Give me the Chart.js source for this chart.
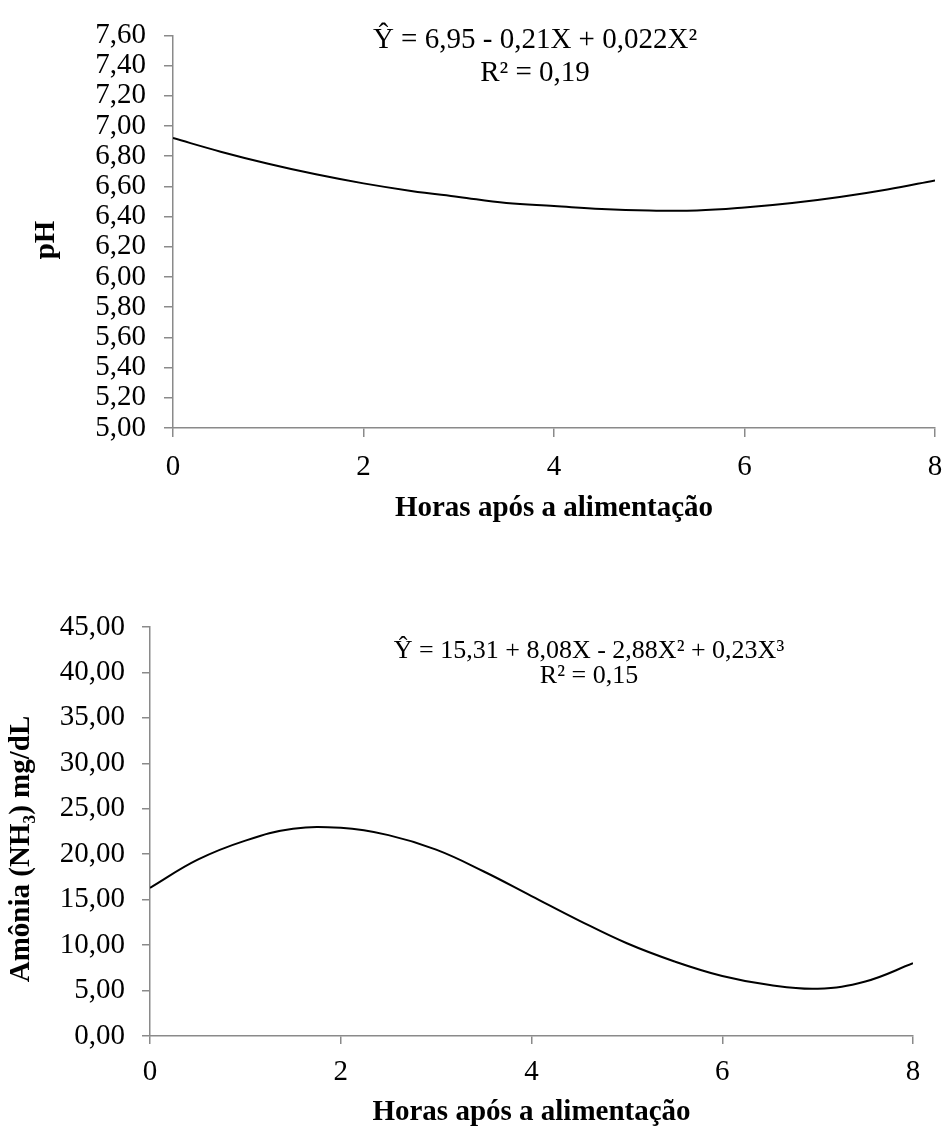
<!DOCTYPE html>
<html><head><meta charset="utf-8">
<script src="https://cdn.jsdelivr.net/npm/chart.js@4.4.1/dist/chart.umd.min.js"></script>
<style>
html,body{margin:0;padding:0;background:#fff;width:942px;height:1128px;overflow:hidden}
.box{position:absolute;left:0;width:942px}
</style></head><body>
<div class="box" style="top:0;height:545px"><canvas id="phChart"></canvas></div>
<div class="box" style="top:545px;height:583px"><canvas id="nh3Chart"></canvas></div>
<script>
// ---- data ----
const hours = [0,0.5,1,1.5,2,2.5,3,3.5,4,4.5,5,5.5,6,6.5,7,7.5,8];
const phValues = [6.92,6.83,6.75,6.68,6.62,6.57,6.53,6.49,6.47,6.45,6.44,6.44,6.46,6.49,6.53,6.58,6.64];
const nh3Values = [16.3,19.4,21.5,22.8,22.9,22.1,20.5,18.1,15.4,12.7,10.2,8.2,6.6,5.6,5.2,6.0,8.0];

const xTickValues = [0,2,4,6,8];
const xTickLabels = ['0','2','4','6','8'];
const phTickValues = [5.0,5.2,5.4,5.6,5.8,6.0,6.2,6.4,6.6,6.8,7.0,7.2,7.4,7.6];
const phTickLabels = ['5,00','5,20','5,40','5,60','5,80','6,00','6,20','6,40','6,60','6,80','7,00','7,20','7,40','7,60'];
const nh3TickValues = [0,5,10,15,20,25,30,35,40,45];
const nh3TickLabels = ['0,00','5,00','10,00','15,00','20,00','25,00','30,00','35,00','40,00','45,00'];

const xTitle = 'Horas após a alimentação';
const phTitle = 'pH';
const nh3Title = 'Amônia (NH₃) mg/dL';
const phEquation = ['Ŷ = 6,95 - 0,21X + 0,022X²', 'R² = 0,19'];
const nh3Equation = ['Ŷ = 15,31 + 8,08X - 2,88X² + 0,23X³', 'R² = 0,15'];

// ---- styling ----
const SERIF = '"Liberation Serif", "Times New Roman", Times, serif';
const AXIS = '#8a8a8a';

const textPlugin = {
  id: 'texts',
  afterDraw(chart, args, opts) {
    const ctx = chart.ctx;
    ctx.save();
    ctx.fillStyle = '#000';
    ctx.font = opts.eqSize + 'px ' + SERIF;
    ctx.textAlign = 'center';
    ctx.textBaseline = 'middle';
    opts.eq.forEach((t, i) => ctx.fillText(t, opts.eqX, opts.eqY[i]));
    ctx.font = 'bold 29px ' + SERIF;
    ctx.translate(opts.ytX, opts.ytY);
    ctx.rotate(-Math.PI / 2);
    ctx.fillText(opts.yTitle, 0, 0);
    ctx.restore();
  }
};

function makeChart(id, values, yVals, yLabels, yMin, yMax, layout, texts) {
  return new Chart(document.getElementById(id), {
    type: 'line',
    data: {
      datasets: [{
        data: hours.map((x, i) => ({x: x, y: values[i]})),
        borderColor: '#000',
        borderWidth: 2,
        pointRadius: 0,
        fill: false,
        tension: 0.4
      }]
    },
    plugins: [textPlugin],
    options: {
      responsive: true,
      maintainAspectRatio: false,
      animation: false,
      devicePixelRatio: 1,
      layout: {padding: layout.padding},
      plugins: {
        legend: {display: false},
        tooltip: {enabled: false},
        texts: texts
      },
      scales: {
        x: {
          type: 'linear', min: 0, max: 8,
          afterBuildTicks: s => { s.ticks = xTickValues.map(v => ({value: v})); },
          afterFit: s => { s.height = layout.xHeight; s.paddingLeft = 0; s.paddingRight = 0; },
          ticks: {
            autoSkip: false,
            callback: (v, i) => xTickLabels[i],
            font: {family: SERIF, size: 29}, color: '#000',
            padding: layout.xPad, maxRotation: 0
          },
          grid: {display: true, drawOnChartArea: false, drawTicks: true, tickLength: layout.tick, color: AXIS, lineWidth: 1.5},
          border: {display: true, color: AXIS, width: 1.5},
          title: {
            display: true, text: xTitle, color: '#000',
            font: {family: SERIF, size: 29, weight: 'bold', lineHeight: 1.1},
            padding: {top: 0, bottom: layout.xtPad}
          }
        },
        y: {
          type: 'linear', min: yMin, max: yMax,
          afterBuildTicks: s => { s.ticks = yVals.map(v => ({value: v})); },
          afterFit: s => { s.width = layout.yWidth; },
          ticks: {
            autoSkip: false,
            callback: (v, i) => yLabels[i],
            font: {family: SERIF, size: 29}, color: '#000',
            padding: layout.yPad
          },
          grid: {display: true, drawOnChartArea: false, drawTicks: true, tickLength: layout.tick, color: AXIS, lineWidth: 1.5},
          border: {display: true, color: AXIS, width: 1.5}
        }
      }
    }
  });
}

makeChart('phChart', phValues, phTickValues, phTickLabels, 5.0, 7.6,
  {padding: {left: 0, right: 7, top: 29, bottom: 0}, xHeight: 117, yWidth: 173, tick: 9, xPad: 13, yPad: 18, xtPad: 21},
  {eq: phEquation, eqSize: 29, eqX: 535, eqY: [40, 73], yTitle: phTitle, ytX: 47, ytY: 240});

makeChart('nh3Chart', nh3Values, nh3TickValues, nh3TickLabels, 0, 45,
  {padding: {left: 0, right: 29, top: 82, bottom: 0}, xHeight: 92, yWidth: 150, tick: 8, xPad: 11, yPad: 17, xtPad: 0},
  {eq: nh3Equation, eqSize: 26, eqX: 589, eqY: [106, 131], yTitle: nh3Title, ytX: 22, ytY: 304});
</script>
</body></html>
